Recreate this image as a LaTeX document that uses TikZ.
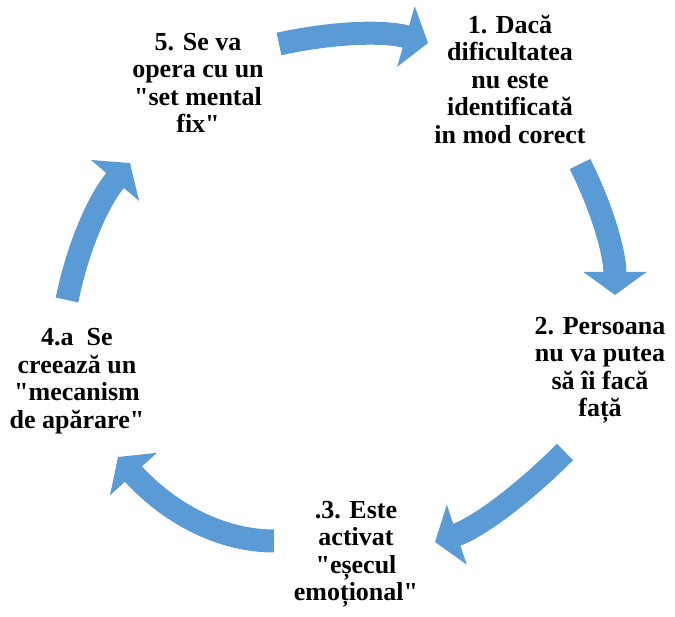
\documentclass[tikz,border=0pt]{standalone}
\usepackage{fontspec}
\setmainfont{Liberation Serif}[Ligatures=TeXOff]
\usetikzlibrary{arrows.meta}
\definecolor{arrowblue}{RGB}{91,155,213}
\begin{document}
\begin{tikzpicture}[x=1pt,y=-1pt,
  step text/.style={align=center, inner sep=0pt,
    font=\fontsize{26pt}{27.5pt}\selectfont\bfseries},
  cycle arrow/.style={draw=arrowblue, line width=23pt,
    -{Triangle[length=23pt,width=62pt]}}]
  \useasboundingbox (0,0) rectangle (675,617);

  % the five stages of the cycle
  \node[step text] (s1) at (510,79) {1. Dacă\\dificultatea\\nu este\\identificată\\in mod corect};
  \node[step text] (s2) at (600,370) {2. Persoana\\nu va putea\\să îi facă\\față};
  \node[step text] (s3) at (356,554) {.3. Este\\activat\\"eșecul\\emoțional"};
  \node[step text] (s4) at (77,381) {4.a\ \ Se\\creează un\\"mecanism\\de apărare"};
  \node[step text] (s5) at (198,83) {5. Se va\\opera cu un\\"set mental\\fix"};

  % arrow ends between the stages
  \coordinate (a1s) at (279,44);  \coordinate (a1e) at (428,43);
  \coordinate (a2s) at (580,164); \coordinate (a2e) at (615,295);
  \coordinate (a3s) at (565,452); \coordinate (a3e) at (435,542);
  \coordinate (a4s) at (274,541); \coordinate (a4e) at (118,457);
  \coordinate (a5s) at (67,300);  \coordinate (a5e) at (130,163);

  % curved block arrows (quadratic arcs written as cubics)
  \draw[cycle arrow] (a1s) .. controls (337,31.3) and (386.7,31) .. (a1e);
  \draw[cycle arrow] (a2s) .. controls (603.3,210.7) and (615,254.3) .. (a2e);
  \draw[cycle arrow] (a3s) .. controls (518.3,498.7) and (475,528.7) .. (a3e);
  \draw[cycle arrow] (a4s) .. controls (220.7,541) and (168.7,513) .. (a4e);
  \draw[cycle arrow] (a5s) .. controls (78.3,244.7) and (99.3,199) .. (a5e);
\end{tikzpicture}
\end{document}
